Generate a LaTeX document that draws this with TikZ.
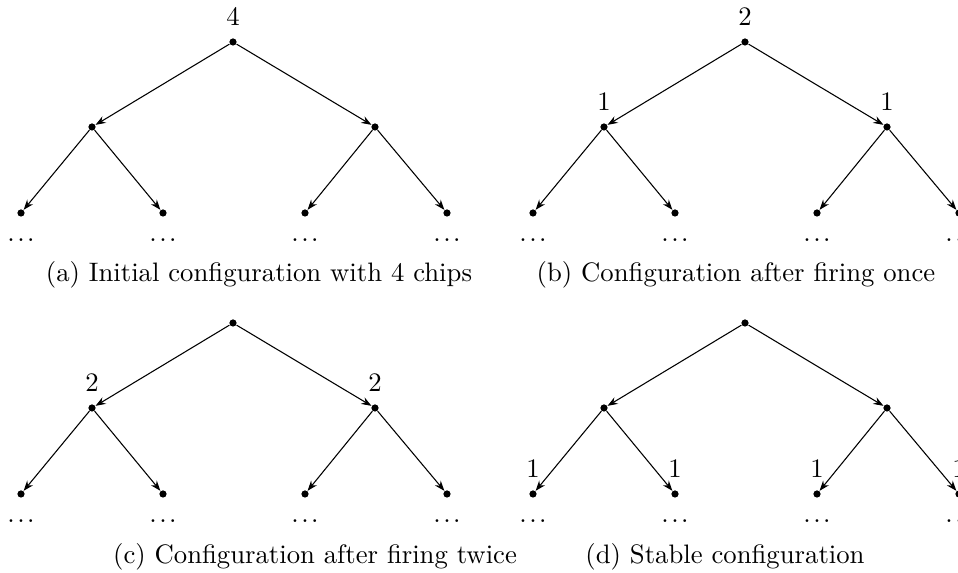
\documentclass[tikz,border=0pt]{standalone}
\usetikzlibrary{arrows.meta}
\tikzset{
  vtx/.style={circle,fill=black,inner sep=0pt,minimum size=2.7pt},
  lab/.style={inner sep=0pt,label distance=4.3pt},
  dotsn/.style={inner sep=0pt},
  arr/.style={-{Stealth[length=3.8pt,width=2.8pt]},line width=0.4pt},
  capn/.style={inner sep=0pt}
}
\newcommand\mydots{.\kern0.9pt.\kern0.9pt.}
\newcommand\mytree[6]{%
\begin{scope}[shift={(#2,#3)}]
  \node[vtx,label={[lab]above:#4}] (#1r) at (233,42) {};
  \node[vtx,label={[lab]above:#5}] (#1L) at (92,127) {};
  \node[vtx,label={[lab]above:#5}] (#1R) at (375,127) {};
  \node[vtx,label={[lab]above:#6}] (#1a) at (21,213) {};
  \node[vtx,label={[lab]above:#6}] (#1b) at (163,213) {};
  \node[vtx,label={[lab]above:#6}] (#1c) at (305,213) {};
  \node[vtx,label={[lab]above:#6}] (#1d) at (447,213) {};
  \node[dotsn] (#1da) at (21,240) {\mydots};
  \node[dotsn] (#1db) at (163,240) {\mydots};
  \node[dotsn] (#1dc) at (305,240) {\mydots};
  \node[dotsn] (#1dd) at (447,240) {\mydots};
  \draw[arr] (#1r) -- (#1L);
  \draw[arr] (#1r) -- (#1R);
  \draw[arr] (#1L) -- (#1a);
  \draw[arr] (#1L) -- (#1b);
  \draw[arr] (#1R) -- (#1c);
  \draw[arr] (#1R) -- (#1d);
\end{scope}}
\begin{document}
\begin{tikzpicture}[x=0.3745pt,y=-0.3745pt]
  \useasboundingbox (0,0) rectangle (958,573);
  \mytree{A}{0}{0}{4}{}{}
  \mytree{B}{512}{0}{2}{1}{}
  \mytree{C}{0}{281}{}{2}{}
  \mytree{D}{512}{281}{}{}{1}
  \node[capn] (capA) at (259,275) {(a) Initial configuration with 4 chips};
  \node[capn] (capB) at (736,275) {(b) Configuration after firing once};
  \node[capn] (capC) at (315,557) {(c) Configuration after firing twice};
  \node[capn] (capD) at (725,557) {(d) Stable configuration};
\end{tikzpicture}
\end{document}
